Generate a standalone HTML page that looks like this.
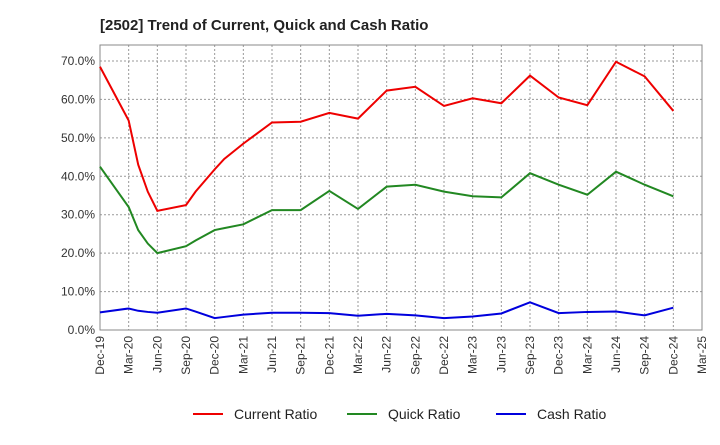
<!DOCTYPE html>
<html><head><meta charset="utf-8"><style>
body{margin:0;background:#fff;font-family:"Liberation Sans",sans-serif}
</style></head><body>
<svg id="c" width="720" height="440" xmlns="http://www.w3.org/2000/svg">
<text x="100" y="30" font-size="15" font-weight="bold" fill="#222">[2502]  Trend of Current, Quick and Cash Ratio</text>
<g id="grid"></g><g id="axes"></g><g id="series"></g><g id="legend"></g>
</svg>
<script>
const months=[0,3,4,5,6,9,10,12,13,15,18,21,24,27,30,33,36,39,42,45,48,51,54,57,60];
const current=[68.5,54.5,43,36,31,32.5,36,41.8,44.5,48.5,54,54.2,56.5,55,62.3,63.3,58.3,60.3,59,66.2,60.5,58.5,69.8,66,57];
const quick=[42.5,32,26,22.5,20,21.8,23.3,26,26.5,27.5,31.2,31.2,36.2,31.5,37.3,37.8,36,34.8,34.5,40.8,37.8,35.2,41.2,37.8,34.8];
const cash=[4.6,5.6,5,4.7,4.5,5.6,4.8,3.1,3.4,4,4.5,4.5,4.4,3.7,4.2,3.8,3.1,3.5,4.3,7.2,4.4,4.7,4.8,3.8,5.8];
const xLabels=["Dec-19","Mar-20","Jun-20","Sep-20","Dec-20","Mar-21","Jun-21","Sep-21","Dec-21","Mar-22","Jun-22","Sep-22","Dec-22","Mar-23","Jun-23","Sep-23","Dec-23","Mar-24","Jun-24","Sep-24","Dec-24","Mar-25"];
const yTicks=[0,10,20,30,40,50,60,70];
const X0=100,X1=702,Y0=330,YT=45;
const xs=m=>X0+(X1-X0)*m/63;
const ys=v=>Y0-v*3.843;
const NS="http://www.w3.org/2000/svg";
function mk(p,t,a){const e=document.createElementNS(NS,t);for(const k in a)e.setAttribute(k,a[k]);p.appendChild(e);return e;}
const grid=document.getElementById('grid'),axes=document.getElementById('axes'),ser=document.getElementById('series'),leg=document.getElementById('legend');
yTicks.forEach(v=>{const y=ys(v);
 const l=mk(grid,'line',{x1:X0,x2:X1,y1:y,y2:y,stroke:'#999','stroke-dasharray':'2,2','stroke-width':1});
 
 const t=mk(axes,'text',{x:X0-5,y:y+4,'text-anchor':'end','font-size':12,fill:'#333'});t.textContent=v.toFixed(1)+'%';
 });
xLabels.forEach((s,i)=>{const x=xs(i*3);
 const l=mk(grid,'line',{x1:x,x2:x,y1:YT,y2:Y0,stroke:'#999','stroke-dasharray':'2,2','stroke-width':1});
 
 const t=mk(axes,'text',{x:0,y:0,'text-anchor':'end','font-size':12,fill:'#333',transform:`translate(${x+4},${Y0+6}) rotate(-90)`});t.textContent=s;
 });
const fr=mk(axes,'rect',{x:X0,y:YT,width:X1-X0,height:Y0-YT,fill:'none',stroke:'#888'});

[[current,'#ee0000','current-ratio-line'],[quick,'#228822','quick-ratio-line'],[cash,'#0000dd','cash-ratio-line']].forEach(([d,c,n])=>{
 const p=mk(ser,'polyline',{points:d.map((v,i)=>xs(months[i])+','+ys(v)).join(' '),fill:'none',stroke:c,'stroke-width':2});
 });
[['Current Ratio','#ee0000',193],['Quick Ratio','#228822',347],['Cash Ratio','#0000dd',496]].forEach(([s,c,x])=>{
 const g=mk(leg,'g',{});
 mk(g,'line',{x1:x,x2:x+30,y1:414,y2:414,stroke:c,'stroke-width':2});
 const t=mk(g,'text',{x:x+41,y:419,'font-size':14,fill:'#222'});t.textContent=s;});
</script>
</body></html>
